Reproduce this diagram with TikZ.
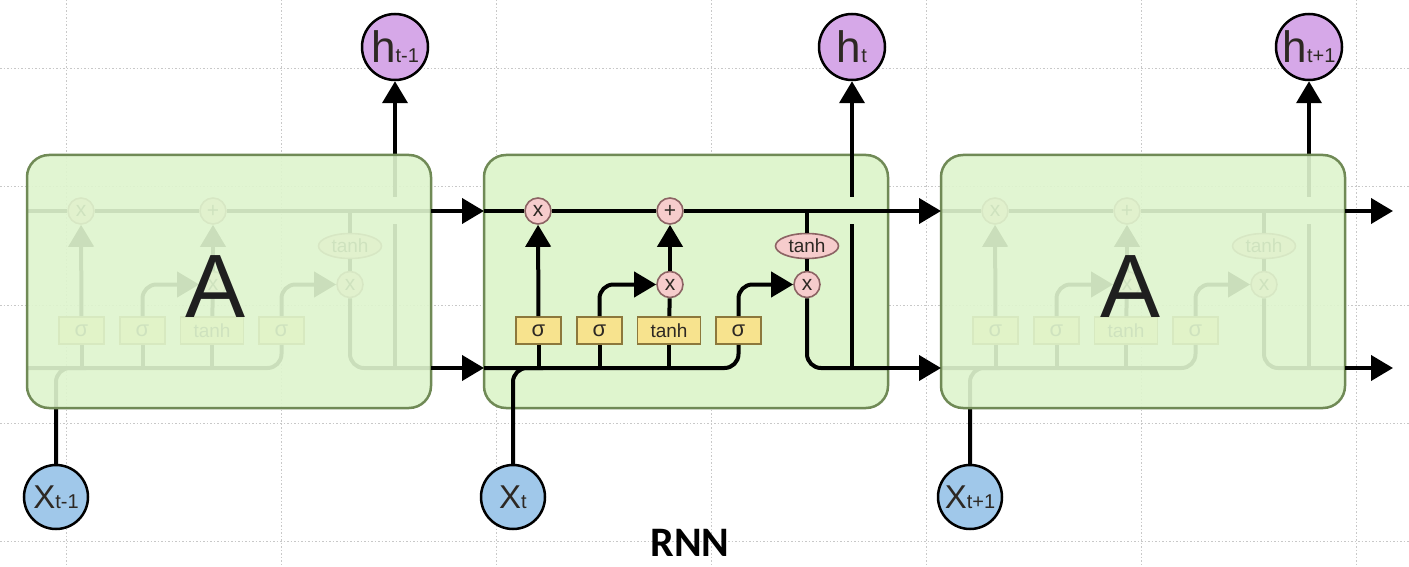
\documentclass[tikz,border=0pt]{standalone}
\usepackage{fontspec}
\setmainfont{Liberation Sans}
\newfontfamily\rnnfont{Carlito}
\usetikzlibrary{arrows.meta,shapes.geometric,calc}

\definecolor{boxgreen}{RGB}{223,245,206}
\definecolor{boxedge}{RGB}{112,138,86}
\definecolor{opfill}{RGB}{246,204,204}
\definecolor{opedge}{RGB}{140,100,100}
\definecolor{layfill}{RGB}{247,227,142}
\definecolor{layedge}{RGB}{140,120,60}
\definecolor{hfill}{RGB}{214,168,232}
\definecolor{xfill}{RGB}{160,200,234}
\definecolor{gridc}{RGB}{200,200,200}
\definecolor{txt}{RGB}{45,40,35}

\tikzset{
  wire/.style={line width=4pt, black},
  arr/.style={wire, -{Triangle[length=22pt,width=25pt]}},
  op/.style={circle, draw=opedge, fill=opfill, line width=1.6pt, minimum size=26pt, inner sep=0pt, font=\fontsize{21}{21}\selectfont, text=txt},
  opel/.style={ellipse, draw=opedge, fill=opfill, line width=1.6pt, minimum width=63pt, minimum height=25pt, inner sep=0pt, font=\fontsize{19}{19}\selectfont, text=txt},
  layer/.style={rectangle, draw=layedge, fill=layfill, line width=1.6pt, minimum height=27pt, minimum width=45pt, inner sep=0pt, font=\fontsize{22}{22}\selectfont, text=txt},
  hnode/.style={circle, draw=black, fill=hfill, line width=2.5pt, minimum size=66pt, inner sep=0pt, text=txt},
  xnode/.style={circle, draw=black, fill=xfill, line width=2.5pt, minimum size=64pt, inner sep=0pt, text=txt},
  cellbox/.style={draw=boxedge, line width=2.5pt, rounded corners=22pt, minimum width=404pt, minimum height=253pt, inner sep=0pt},
  gridline/.style={gridc, line width=1pt, dash pattern=on 1.5pt off 2pt},
  bigA/.style={font=\fontsize{90}{90}\selectfont, text={black!88}, inner sep=0pt},
}

\newcommand\lstmcell[2]{%
  \begin{scope}[shift={(#1,0)}]
    \coordinate (cin#2) at (0,211);
    \coordinate (cout#2) at (404,211);
    \coordinate (hin#2) at (0,368);
    \coordinate (hout#2) at (404,368);
    \coordinate (cj#2) at (323,211);
    \coordinate (hj#2) at (368,368);
    \coordinate (hb#2) at (368,224);
    \coordinate (ht#2) at (368,197);
    \node[op] (f#2) at (54,211) {x};
    \node[op] (p#2) at (186,211) {+};
    \node[op] (i#2) at (186,284.5) {x};
    \node[opel] (th#2) at (323,246) {tanh};
    \node[op] (o#2) at (323,284.5) {x};
    \node[layer] (sa#2) at (54.5,330.5) {σ};
    \node[layer] (sb#2) at (115.5,330.5) {σ};
    \node[layer, minimum width=63pt, font=\fontsize{19}{19}\selectfont] (g#2) at (185,330.5) {tanh};
    \node[layer] (sc#2) at (254.5,330.5) {σ};
  \end{scope}
  \draw[wire] (cin#2) -- (f#2);
  \draw[wire] (f#2) -- (p#2);
  \draw[wire] (p#2) -- (cout#2);
  \draw[wire] (cj#2) -- (th#2);
  \draw[wire] (th#2) -- (o#2);
  \draw[arr] (sa#2) -- (f#2);
  \draw[arr, rounded corners=14pt] (sb#2.north) |- (i#2);
  \draw[wire] (g#2) -- (i#2);
  \draw[arr] (i#2) -- (p#2);
  \draw[arr, rounded corners=14pt] (sc#2.north) |- (o#2);
  \draw[wire, rounded corners=14pt] (o#2) |- (hout#2);
  \draw[wire] (hj#2) -- (hb#2);
  \draw[arr] (ht#2) -- (hc#2);
  \draw[wire, rounded corners=14pt] (hin#2) -| (sc#2.south);
  \draw[wire] (sa#2 |- hin#2) -- (sa#2);
  \draw[wire] (sb#2 |- hin#2) -- (sb#2);
  \draw[wire] (g#2 |- hin#2) -- (g#2);
  \draw[wire, rounded corners=14pt] (xc#2.north) |- ($(xc#2 |- hin#2)+(30,0)$);
}

\begin{document}
\begin{tikzpicture}[x=1pt, y=-1pt]
  \useasboundingbox (0,0) rectangle (1409,567);
  \fill[white] (0,0) rectangle (1409,567);
  % background grid
  \foreach \gx in {66,281,496,711,926,1141,1356}
    \draw[gridline] (\gx,0) -- (\gx,567);
  \foreach \gy in {69,187,305,423,541}
    \draw[gridline] (0,\gy) -- (1409,\gy);

  % outputs and inputs
  \node[hnode] (hcL) at (395,47) {\fontsize{44}{44}\selectfont h\fontsize{20}{20}\selectfont t-1};
  \node[hnode] (hcM) at (852,47) {\fontsize{44}{44}\selectfont h\fontsize{20}{20}\selectfont t};
  \node[hnode] (hcR) at (1309,47) {\fontsize{44}{44}\selectfont h\fontsize{20}{20}\selectfont t+1};
  \node[xnode] (xcL) at (56,497) {\fontsize{33}{33}\selectfont X\fontsize{20}{20}\selectfont t-1};
  \node[xnode] (xcM) at (513,497) {\fontsize{33}{33}\selectfont X\fontsize{20}{20}\selectfont t};
  \node[xnode] (xcR) at (970,497) {\fontsize{33}{33}\selectfont X\fontsize{20}{20}\selectfont t+1};

  % middle cell box
  \node[cellbox, fill=boxgreen] (boxM) at (686,281.5) {};

  \lstmcell{27}{L}
  \lstmcell{484}{M}
  \lstmcell{941}{R}

  % faded neighbours
  \node[cellbox, fill=boxgreen, fill opacity=0.91] (boxL) at (229,281.5) {};
  \node[cellbox, fill=boxgreen, fill opacity=0.91] (boxR) at (1143,281.5) {};
  \node[bigA] (aL) at (216,287) {A};
  \node[bigA] (aR) at (1131,287) {A};

  % links between cells
  \coordinate (cend) at (1393,211);
  \coordinate (hend) at (1393,368);
  \draw[arr] (coutL) -- (cinM);
  \draw[arr] (houtL) -- (hinM);
  \draw[arr] (coutM) -- (cinR);
  \draw[arr] (houtM) -- (hinR);
  \draw[arr] (coutR) -- (cend);
  \draw[arr] (houtR) -- (hend);

  \node[font=\rnnfont\bfseries\fontsize{42}{42}\selectfont, inner sep=0pt] (title) at (690,543) {RNN};
\end{tikzpicture}
\end{document}
